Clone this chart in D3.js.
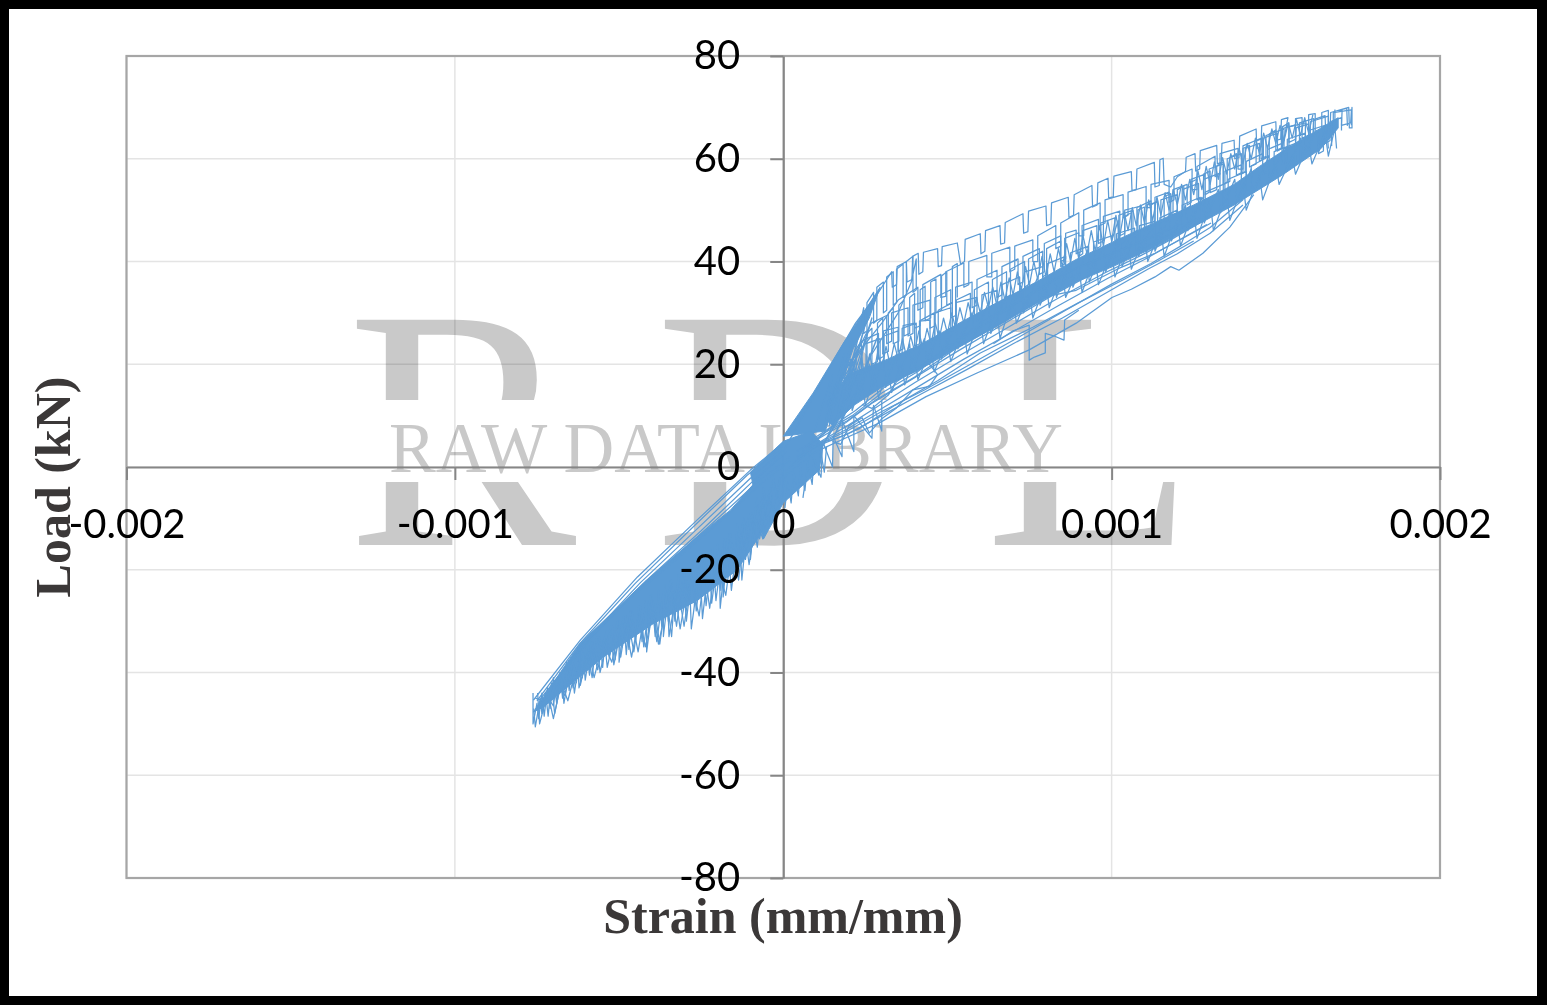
<!DOCTYPE html>
<html><head><meta charset="utf-8">
<script src="https://cdn.jsdelivr.net/npm/d3@7/dist/d3.min.js"></script>
<style>html,body{margin:0;padding:0;background:#000}svg{display:block}</style>
</head><body><svg id="c" width="1547" height="1005"></svg>
<script>
const xTicks=[-0.002,-0.001,0,0.001,0.002];
const yTicks=[-80,-60,-40,-20,0,20,40,60,80];
const xTitle="Strain (mm/mm)", yTitle="Load (kN)";
const wmLetters=["R","D","L"], wmText="RAW DATA LIBRARY";
// strain in microstrain, load in kN
const corePositive=[[120,10],[195,18],[300,20.5],[411,23.6],[530,27.8],[651,32],[770,36],[892,40.4],[1010,44],[1132,47.6],[1250,51],[1373,55],[1450,58.5],[1519,61.4],[1638,66],[1690,68],[1690,66],[1638,62],[1519,56.8],[1373,51],[1250,46.8],[1132,42.8],[1010,39.2],[892,36],[770,31.8],[651,27.4],[530,23.2],[411,18.8],[300,15.5],[215,12],[150,8]];
const coreSteep=[[0,6],[91,14.4],[183,24.1],[256,31.2],[295,35],[262,29],[213,23],[173,15.5],[128,7]];
const coreOrigin=[[-100,-1],[0,5],[85,7],[120,4.5],[110,-0.6],[60,-3.5],[0,-7],[-60,-14]];
const coreNegative=[[-761,-47.7],[-618,-34.3],[-426,-22.6],[-262,-13.6],[-161,-8.4],[-61,-1.2],[0,2.3],[0,-5.8],[-61,-12.3],[-140,-20],[-262,-26],[-396,-30.5],[-548,-37],[-730,-46.7]];
const toothA=[[0,3],[120,17],[220,28],[290,34],[330,38],[332,35],[345,35.5],[347,39],[375,40],[377,36],[392,36.5],[394,41],[411,41.6],[413,37.5],[425,38],[427,41.8],[470,42.5],[472,39],[482,39.2],[484,42.9],[530,43.6],[540,39.5],[552,40],[554,44.3],[600,45.4],[602,41.5],[614,42],[616,46],[660,47],[662,43.4],[674,43.6],[676,47.6],[730,49.3],[732,45.5],[745,45.8],[747,49.8],[800,50.8],[802,47],[815,47.3],[817,51.4],[868,52.5],[870,48.6],[884,49],[886,53],[940,54.8],[942,50.6],[956,51],[958,55.3],[989,56.2],[991,52.4],[1005,52.6],[1007,56.6],[1060,57.5],[1062,53.8],[1075,54],[1077,58],[1130,59.3],[1132,54.5],[1145,54.8],[1147,59.8],[1157,60.1],[1160,55],[1180,54.5],[1200,56.5],[1225,57.5],[1227,60.3],[1254,61],[1256,57.6],[1268,58],[1270,61.6],[1320,62.6],[1322,59],[1334,59.3],[1336,63],[1373,63.6],[1375,60],[1388,60.2],[1390,64.4],[1440,65.8],[1442,62],[1455,62.3],[1457,66.4],[1500,67.2],[1502,63.6],[1515,63.8],[1517,67.6],[1537,68],[1520,62],[1560,62.5],[1562,66],[1600,66.8],[1602,64],[1613,64.3],[1615,67.6],[1650,68.4],[1652,65],[1665,65.2],[1667,69],[1722,70],[1724,66],[1732,66],[1732,70],[1728,67],[1700,66.5],[1702,69.6],[1716,69.8],[1718,66.4]];
const toothB=[[200,20],[300,28],[350,32.5],[410,35],[410,30.5],[425,31],[425,35.5],[480,37.5],[480,33],[495,33.2],[495,38],[550,39.7],[550,35],[565,35.5],[565,40],[620,41.2],[620,37],[635,37],[635,41.6],[690,42.8],[690,38],[705,38.5],[705,43],[760,44.2],[760,40],[775,40],[775,45],[830,47],[830,42.5],[845,43],[845,47.5],[900,49.5],[900,45],[915,45],[915,50],[965,51.4],[965,47],[980,47.5],[980,52],[1035,53],[1035,48.5],[1050,49],[1050,53.5],[1105,54.6],[1105,50.5],[1120,50.5],[1120,55],[1175,55.8],[1175,51.5],[1190,52],[1190,56.5],[1245,58],[1245,54],[1260,54],[1260,58.5],[1315,60.5],[1315,56.5],[1330,57],[1330,61],[1385,62],[1385,58],[1400,58],[1400,62.5],[1455,64],[1455,60],[1470,60.5],[1470,64.5],[1525,65.8],[1525,62],[1540,62],[1540,66.2],[1590,67],[1590,63.5],[1605,64],[1605,67.2],[1660,68.3],[1660,65],[1675,65.5],[1675,69],[1730,69.5],[1730,66.5]];
const toothC=[[150,15],[230,23],[268,28],[315,29.5],[315,24],[330,24.5],[330,30],[380,31],[380,25.5],[395,26],[395,31.5],[447,32.5],[447,27],[462,27.5],[462,33],[510,34.5],[510,29],[525,29.5],[525,35],[575,36],[575,31],[590,31.5],[590,36.5],[651,38.3],[651,33],[666,33.5],[666,39],[715,40.5],[715,35.5],[730,36],[730,41],[780,42.5],[780,37.5],[795,38],[795,43.5],[845,45],[845,40],[860,40.5],[860,45.5],[892,46.1],[892,41.5],[910,42],[910,47],[960,48.2],[960,43.5],[975,44],[975,48.8],[1025,49.8],[1025,45],[1040,45.5],[1040,50],[1090,50.8],[1090,46],[1105,46.5],[1105,51],[1132,51.4],[1132,47],[1150,47.5],[1150,52],[1200,53],[1200,48.5],[1215,49],[1215,54],[1265,55.2],[1265,51],[1280,51.5],[1280,56],[1330,57.2],[1330,53],[1345,53.5],[1345,57.6],[1395,58.8],[1395,55],[1410,55.5],[1410,59.5],[1460,61],[1460,57],[1475,57.5],[1475,61.8],[1519,63],[1519,59],[1535,59.5],[1535,63.8],[1590,65],[1590,61.5],[1605,62],[1605,65.6],[1650,66.5],[1650,63],[1665,63.5],[1665,67.2],[1700,68],[1700,65.5]];
const toothD=[[130,12],[200,20],[244,24.7],[290,26],[290,21],[305,21.5],[305,26.5],[350,27.2],[350,22.5],[365,23],[365,27.5],[400,28],[400,23.5],[415,24],[415,28.4],[447,28.6],[447,24.5],[462,25],[462,30],[510,31],[510,26.5],[525,27],[525,32],[590,33],[590,28.5],[605,29],[605,33.5],[651,34.4],[651,30],[666,30.5],[666,35.5],[720,37],[720,32.5],[735,33],[735,38],[790,39],[790,34.5],[805,35],[805,39.6],[860,41],[860,36.5],[875,37],[875,41.7],[930,43],[930,38.5],[945,39],[945,43.8],[1000,45],[1000,40.5],[1015,41],[1015,45.4],[1070,46.5],[1070,42],[1085,42.5],[1085,47],[1132,47.8],[1132,43.5],[1147,44],[1147,48.5],[1200,50],[1200,46],[1215,46.5],[1215,51],[1270,52.5],[1270,48],[1285,48.5],[1285,53.5],[1340,55],[1340,50.5],[1355,51],[1355,56],[1410,57.5],[1410,53.5],[1425,54],[1425,58.6],[1480,60.5],[1480,56.5],[1495,57],[1495,61.4],[1560,63],[1560,59],[1575,59.5],[1575,63.8],[1630,65],[1630,61],[1645,61.5],[1645,66],[1670,66.8],[1670,62.5]];
const toothE=[[180,17],[240,23],[240,18],[252,18.5],[252,24],[295,25],[295,20],[307,20],[307,25.5],[350,26.5],[350,21.5],[362,22],[362,27],[405,28],[405,23],[417,23.5],[417,28.5],[460,30],[460,25],[472,25.5],[472,30.5],[515,32],[515,27],[527,27.5],[527,32.5],[570,33.8],[570,29],[582,29.5],[582,34.5],[625,36],[625,31],[637,31.5],[637,36.5],[680,38],[680,33],[692,33.5],[692,38.5],[735,40],[735,35],[747,35.5],[747,40.5],[790,42],[790,37],[802,37.5],[802,42.5],[845,44],[845,39],[857,39.5],[857,44.5],[900,45.6],[900,41],[912,41.5],[912,46],[955,47],[955,42.5],[967,43],[967,47.5],[1010,48.5],[1010,44],[1022,44.5],[1022,49],[1065,50],[1065,45.5],[1077,46],[1077,50.5],[1120,51.8],[1120,47.5],[1132,48],[1132,52.5],[1175,53.5],[1175,49],[1187,49.5],[1187,54],[1230,55],[1230,51],[1242,51.5],[1242,56],[1285,57],[1285,53],[1297,53.5],[1297,58],[1340,59],[1340,55],[1352,55.5],[1352,60],[1395,61],[1395,57],[1407,57.5],[1407,62],[1450,63],[1450,59.5],[1462,60],[1462,64],[1505,65],[1505,61.5],[1517,62],[1517,65.8],[1560,66.6],[1560,63],[1572,63.5],[1572,67],[1615,67.8],[1615,64.5]];
const toothF=[[235,28],[245,31],[245,26],[255,26.5],[255,32],[275,34],[275,28],[285,28.5],[285,35],[305,36],[305,30],[315,30.5],[315,37],[335,38],[335,31.5],[345,32],[345,38.5],[365,39.5],[365,33],[375,33.5],[375,40],[395,41],[395,34],[405,34.5],[405,40.5],[390,36],[370,33],[350,30],[330,28],[310,26],[290,24],[270,22]];
const toothG=[[190,16],[205,21],[205,16.5],[222,17],[222,23],[238,24.5],[238,18.5],[255,19],[255,26],[270,27],[270,20],[287,20.5],[287,28],[303,29],[303,22],[320,22.5],[320,30],[335,31],[335,24],[352,24.5],[352,31.5],[368,32.5],[368,25.5],[385,26],[385,33],[400,33.8],[400,27],[417,27.5],[417,34.5],[432,35.2],[432,28.5],[449,29],[449,36],[465,36.6],[465,30],[482,30.5],[482,37.2],[498,38],[498,31.5],[515,32],[515,39],[530,39.6],[530,33]];
const toothH=[[1000,44],[1020,48],[1020,43],[1040,44],[1040,48.8],[1060,49.5],[1060,44.6],[1080,45.4],[1080,50],[1100,50.6],[1100,46],[1120,46.6],[1120,51],[1140,51.8],[1140,47.4],[1160,48],[1160,52.6],[1180,53.2],[1180,49],[1200,49.4],[1200,54],[1220,54.6],[1220,50],[1240,50.8],[1240,55.4],[1260,56],[1260,52],[1280,52.4],[1280,57],[1300,57.6],[1300,53.4],[1320,54],[1320,58.6],[1340,59.4],[1340,55],[1360,55.6],[1360,60.2],[1380,61],[1380,56.8],[1400,57.4],[1400,62],[1420,62.6],[1420,58.4],[1440,59],[1440,63.4],[1460,64],[1460,60],[1480,60.6],[1480,64.8],[1500,65.6],[1500,61.6],[1520,62.2],[1520,66.2],[1540,67],[1540,63.2],[1560,63.8],[1560,67.8],[1580,68],[1580,64],[1600,64.6],[1600,68.6],[1620,68.8],[1620,65],[1640,65.6],[1640,69],[1660,69.4],[1660,66],[1680,66.4],[1680,69.6]];
const steepFuzz=[[90,6],[150,18],[125,7],[185,22],[140,8],[210,25],[165,10],[235,27],[180,12],[255,29],[190,13],[270,29],[210,15],[175,9],[225,17],[190,11],[240,19],[205,13],[260,21],[222,15],[285,25],[240,17],[155,6],[210,14],[120,4],[180,12]];
const spikeP=[[130,9],[160,15],[170,9.5],[200,16],[210,11],[240,17],[250,12],[280,18],[290,13.5],[320,19],[330,14.5],[360,20.5],[370,16],[400,22],[410,17],[450,23],[460,18.5],[500,25],[510,20.5],[550,27],[560,22],[600,29],[610,24],[650,31],[660,25],[700,33],[710,28],[750,34],[760,29],[800,36],[810,31],[850,38],[860,33],[900,39],[910,34],[950,41],[960,35.5],[1000,42],[1010,37],[1050,44],[1060,38.5],[1100,45],[1110,40],[1150,46.5],[1160,41],[1200,48],[1210,43],[1250,50],[1260,44.5],[1300,52],[1310,46],[1350,53],[1360,48],[1400,55],[1410,50],[1450,57],[1460,52],[1500,59],[1510,55],[1550,60.5],[1560,57],[1600,63],[1610,59],[1650,65],[1660,60.5],[1680,66],[1685,62]];
const spikeP2=[[145,13],[175,17],[185,11],[220,18],[228,13],[262,20],[270,15],[305,21],[312,15.5],[345,22],[352,17],[385,24],[392,18.5],[430,25],[438,20],[475,26.5],[482,21],[525,28],[532,23],[575,30],[582,25],[625,32],[632,26],[675,33],[682,29],[725,35],[732,30],[775,37],[782,31.5],[825,38],[832,33],[875,40],[882,35],[925,42],[932,36],[975,43],[982,38],[1025,45],[1032,39],[1075,46],[1082,41],[1125,47],[1132,42],[1175,49],[1182,44],[1225,51],[1232,46],[1275,52.5],[1282,47.5],[1325,54],[1332,49.5],[1375,56],[1382,51.5],[1425,58],[1432,53.5],[1475,60],[1482,56],[1525,62],[1532,57.5],[1575,64],[1582,60],[1625,65.5],[1632,61.5],[1655,66.5],[1660,62]];
const spikeUp=[[200,15],[212,20.5],[225,16],[238,21.5],[250,17],[263,22],[275,18],[288,22.5],[300,19],[313,23.5],[325,20],[338,24],[350,21],[363,25],[375,21.5],[388,25.5],[400,22.5],[413,26.5],[425,23],[438,27],[450,24],[463,28],[475,25],[488,29],[500,26],[513,30],[525,27],[538,31],[550,28],[563,32],[575,29],[588,33],[600,30],[613,34],[625,31],[638,35],[650,31.5],[663,36],[675,32.5],[688,36.8],[700,33.5],[713,38],[725,34.5],[738,39],[750,35.5],[763,40],[775,36.5],[788,41],[800,37],[813,41.5],[825,38],[838,42.5],[850,39],[863,43.5],[875,40],[888,44.5],[900,40.5],[913,45],[925,41.5],[938,46],[950,42],[963,47],[975,43],[988,48],[1000,44],[1013,49],[1025,45],[1038,49.8],[1050,46],[1063,50.5],[1075,47],[1088,51],[1100,47.5],[1113,52],[1125,48],[1138,52.6],[1150,49],[1163,53.4],[1175,50],[1188,54],[1200,51],[1213,55],[1225,52],[1238,56],[1250,53],[1263,57.6],[1275,54],[1288,58.5],[1300,55],[1313,59.4],[1325,56],[1338,60.2],[1350,57],[1363,61],[1375,58],[1388,62],[1400,59],[1413,63],[1425,60],[1438,64],[1450,61],[1463,65],[1475,62],[1488,65.8],[1500,63],[1513,66.5],[1525,63.5],[1538,67],[1550,64],[1563,67.6],[1575,64.5],[1588,68],[1600,65],[1613,68.6]];
const lower1=[[0,-2],[100,3],[195,5.8],[290,8.5],[435,13.7],[590,18.3],[749,22.8],[892,28],[1001,33],[1060,34.6],[1132,37],[1180,39],[1205,38.3],[1278,41.6],[1360,46.7],[1433,53]];
const lower2=[[0,-1],[100,4],[195,6.4],[300,10],[420,14.2],[560,19],[700,24],[850,29],[1000,34.5],[1110,38.5],[1200,41.5],[1300,45.5],[1400,51]];
const lower3=[[20,0],[110,4.5],[195,7],[300,10.8],[430,15],[570,20],[710,25],[860,30.5],[1000,35.6],[1120,39.6],[1210,43],[1300,46.6],[1400,52]];
const lower4=[[30,1],[120,5],[195,7.4],[290,11],[410,15.6],[550,21],[690,26],[840,31.5],[990,36.8],[1100,40.4],[1200,44],[1290,47.2]];
const lower5=[[40,2],[130,5.6],[195,8],[280,11.5],[400,16.4],[540,21.8],[680,27],[830,32.6],[980,37.8],[1090,41.2],[1190,44.6],[1280,48]];
const lower6=[[40,3],[120,6],[190,8.6],[270,12.4],[390,17],[530,22.5],[670,27.8],[820,33.4],[970,38.6],[1080,42],[1180,45.4],[1270,48.6]];
const lower7=[[60,3],[130,6.8],[195,9],[280,13],[400,17.5],[525,23],[651,27.5],[790,33],[892,34.4],[1020,38.6],[1132,41.6],[1303,47.5]];
const lower8=[[50,2],[115,4.8],[160,5.5],[230,7.4],[340,12],[470,16.8],[600,22.2],[760,27.2],[900,32],[1040,36.6],[1150,40.4],[1250,44]];
const lower9=[[70,4],[140,7.4],[210,10],[300,14.4],[410,18.6],[520,24],[640,28.8],[770,34.4],[890,38.6],[1010,41.8],[1120,44.6],[1220,47.5]];
const lower10=[[80,5],[150,8],[220,11],[310,15.6],[415,19.4],[510,23.8],[620,28.8],[740,33],[860,37.8],[980,41],[1100,44.2],[1200,47]];
const lowerCell=[[150,5],[175,4.4],[200,8],[240,9.6],[262,6.6],[300,9.4],[345,11.5],[395,15],[445,15.7],[470,18],[440,20.4],[400,19],[345,16.6],[320,14],[270,11.4],[240,12.2]];
const dipCurve=[[640,24],[700,26.5],[749,27.6],[749,20.8],[765,21.4],[798,22.2],[798,26],[825,25.5],[855,24.7],[857,28.6],[900,30.5]];
const originTeeth=[[60,-6],[80,3],[115,-2],[120,5],[150,0],[152,6],[179,2],[180,9],[215,3],[215,10],[270,5.6],[275,12],[300,7],[300,13]];
const originTeeth2=[[5,-8],[14,-3],[24,-7],[32,-1],[46,-5.6],[52,0],[66,-4.6],[74,1],[88,-3.4],[94,2],[108,-1.6],[114,3],[125,-1],[132,4]];
const negUpper1=[[-761,-45.4],[-618,-33.7],[-444,-21.4],[-262,-10.3],[-100,-0.6],[0,4.7]];
const negUpper2=[[-750,-45.5],[-620,-34.4],[-450,-22.6],[-270,-11.4],[-110,-1.6],[0,4]];
const negUpper3=[[-735,-44.8],[-600,-33.8],[-435,-22.5],[-255,-11.6],[-100,-2.2],[0,3.2]];
const negUpper4=[[-700,-42],[-580,-33],[-420,-22.3],[-250,-12.4],[-90,-2.6],[10,3]];
const negUpper5=[[-640,-36.5],[-500,-27.5],[-370,-19.8],[-220,-11.2],[-80,-3],[20,2]];
const negUpper6=[[-600,-34],[-470,-25.7],[-340,-18.8],[-200,-11],[-70,-3.4],[20,1.2]];
const spikeN1=[[-762,-44],[-762,-50],[-750,-46],[-745,-49],[-735,-44],[-728,-48.5],[-718,-43],[-710,-47],[-700,-41],[-690,-46],[-680,-40],[-672,-45],[-660,-38],[-652,-43.5],[-640,-37],[-630,-42],[-620,-36],[-612,-41],[-600,-35],[-590,-40.5],[-580,-34],[-572,-38],[-560,-33],[-550,-39],[-540,-32],[-530,-37],[-520,-31],[-512,-37.5],[-500,-30],[-490,-35],[-480,-29],[-470,-35.5],[-460,-28],[-450,-34],[-440,-27],[-430,-34],[-420,-26],[-410,-32],[-400,-25],[-390,-33],[-380,-24],[-370,-31],[-360,-23],[-350,-30],[-340,-22],[-330,-30],[-320,-21],[-310,-28],[-300,-20],[-290,-27],[-280,-19],[-270,-27],[-260,-18],[-250,-24],[-240,-17],[-230,-24],[-220,-16],[-210,-23],[-200,-15],[-190,-24],[-180,-14],[-170,-20],[-160,-13],[-150,-20],[-140,-11],[-130,-17],[-120,-10],[-110,-15],[-100,-9],[-90,-13],[-80,-6],[-70,-11],[-60,-4],[-50,-8],[-30,-2],[-20,-6],[0,0]];
const spikeN2=[[-760,-47],[-755,-50.6],[-740,-45],[-735,-48],[-725,-44],[-700,-46.5],[-690,-42],[-665,-44.5],[-650,-39],[-640,-43],[-610,-36],[-603,-41.5],[-585,-34],[-565,-39.5],[-545,-33],[-536,-39],[-505,-30],[-495,-37],[-475,-29],[-455,-36],[-435,-27],[-425,-35],[-405,-25],[-385,-34],[-365,-24],[-365,-33],[-345,-22],[-325,-31],[-305,-21],[-295,-30],[-275,-19],[-265,-28],[-245,-17],[-235,-27],[-215,-16],[-205,-26],[-183,-15],[-183,-25.3],[-165,-13],[-145,-21],[-125,-11],[-115,-18],[-95,-9],[-79,-15.6],[-65,-6],[-45,-11],[-30,-3],[-10,-7],[10,-1]];
const spikeN3=[[-748,-44],[-742,-50],[-722,-45],[-716,-48.5],[-706,-42],[-696,-48],[-674,-41],[-668,-46],[-646,-38],[-636,-44],[-618,-36],[-618,-42.5],[-596,-36],[-582,-41],[-568,-33],[-558,-40],[-526,-31],[-516,-38.5],[-486,-29],[-478,-36.5],[-466,-28],[-442,-36],[-416,-26],[-416,-36],[-396,-26],[-376,-34.5],[-356,-25],[-340,-33],[-330,-24],[-314,-31.5],[-286,-21],[-280,-31.5],[-254,-19],[-246,-29.5],[-226,-18],[-218,-26.5],[-196,-16],[-192,-27.5],[-170,-14],[-158,-24],[-134,-12],[-126,-22],[-108,-10],[-100,-18],[-85,-8],[-72,-14],[-40,-4],[-36,-10],[-10,-2]];
const spikeN4=[[-755,-45],[-710,-46],[-700,-49],[-676,-42],[-656,-45.5],[-626,-38],[-622,-43],[-592,-36],[-576,-41],[-548,-34],[-522,-38],[-500,-31],[-500,-38],[-482,-30],[-462,-37],[-438,-29],[-420,-35],[-396,-28],[-380,-34.5],[-352,-26],[-348,-33],[-322,-23],[-302,-31],[-282,-22],[-256,-29],[-240,-20],[-224,-27.5],[-205,-18],[-175,-25],[-155,-15],[-136,-22],[-118,-12],[-104,-19],[-84,-10],[-62,-14],[-52,-6],[-26,-8]];
const wiggleCurves=[toothA,toothB,toothC,toothD,toothE,toothF,toothG,toothH,steepFuzz,spikeP,spikeP2,spikeUp,lower1,lower2,lower3,lower4,lower5,lower6,lower7,lower8,lower9,lower10,lowerCell,dipCurve,originTeeth,originTeeth2,negUpper1,negUpper2,negUpper3,negUpper4,negUpper5,negUpper6,spikeN1,spikeN2,spikeN3,spikeN4];
const coreBands=[corePositive,coreSteep,coreOrigin,coreNegative];

const svg=d3.select("#c");
const x=d3.scaleLinear().domain([-0.002,0.002]).range([126.5,1440]);
const y=d3.scaleLinear().domain([-80,80]).range([878,56]);
const mx=d=>x(d[0]*1e-6), my=d=>y(d[1]);
const FONT="Lato, 'Open Sans', sans-serif", SERIF="'Liberation Serif', serif";
const BLUE="#5b9bd5";

// black outer frame with white page inside
svg.append("rect").attr("width",1547).attr("height",1005).attr("fill","#000");
svg.append("rect").attr("x",9).attr("y",9).attr("width",1528).attr("height",987).attr("fill","#fff");

// gridlines
const grid=svg.append("g").attr("stroke","#e4e4e4").attr("stroke-width",1.5);
grid.selectAll("line.h").data(yTicks).join("line").attr("class","h").attr("x1",x.range()[0]).attr("x2",x.range()[1]).attr("y1",d=>y(d)).attr("y2",d=>y(d));
grid.selectAll("line.v").data(xTicks).join("line").attr("class","v").attr("y1",56).attr("y2",878).attr("x1",d=>x(d)).attr("x2",d=>x(d));

// watermark
const defs=svg.append("defs");
const cp=defs.append("clipPath").attr("id","wm");
cp.append("rect").attr("x",300).attr("y",300).attr("width",950).attr("height",100);
cp.append("rect").attr("x",300).attr("y",482).attr("width",950).attr("height",80);
const wm=svg.append("g").attr("fill","#c9c9c9").style("mix-blend-mode","multiply");
const big=wm.append("g").attr("clip-path","url(#wm)").attr("font-family",SERIF).attr("font-size",344);
big.selectAll("text").data(wmLetters).join("text").text(d=>d).attr("y",545)
   .attr("x",(d,i)=>[347,655,985][i]);
wm.append("text").text(wmText).attr("x",389).attr("y",472).attr("font-family",SERIF).attr("font-size",72)
   .attr("textLength",674).attr("lengthAdjust","spacingAndGlyphs");

// plot frame
svg.append("rect").attr("x",x.range()[0]).attr("y",56).attr("width",x.range()[1]-x.range()[0]).attr("height",822)
   .attr("fill","none").attr("stroke","#a6a6a6").attr("stroke-width",2.2);

// axis lines and tick marks
const gxLine=svg.append("g").attr("transform",`translate(0,${y(0)})`).call(d3.axisBottom(x).tickValues(xTicks).tickFormat("").tickSize(13).tickSizeOuter(0));
const gyLine=svg.append("g").attr("transform",`translate(${x(0)},0)`).call(d3.axisLeft(y).tickValues(yTicks).tickFormat("").tickSize(13).tickSizeOuter(0));
[gxLine,gyLine].forEach(g=>{
  g.selectAll(".domain").attr("stroke","#868686").attr("stroke-width",2.2);
  g.selectAll(".tick line").attr("stroke","#868686").attr("stroke-width",2);
});

// curves
const line=d3.line().x(mx).y(my);
svg.append("g").selectAll("path").data(coreBands).join("path")
   .attr("d",d=>line(d)+"Z").attr("fill",BLUE).attr("stroke",BLUE).attr("stroke-width",1);
svg.append("g").selectAll("path").data(wiggleCurves).join("path")
   .attr("d",line).attr("fill","none").attr("stroke",BLUE).attr("stroke-width",1.25).attr("stroke-linejoin","round");

// tick labels above the curves
const gxText=svg.append("g").attr("transform",`translate(0,${y(0)})`).call(d3.axisBottom(x).tickValues(xTicks).tickFormat(String).tickSize(0).tickPadding(43));
const gyText=svg.append("g").attr("transform",`translate(${x(0)},0)`).call(d3.axisLeft(y).tickValues(yTicks).tickFormat(String).tickSize(0).tickPadding(43));
[gxText,gyText].forEach(g=>{
  g.selectAll(".domain").remove();
  g.selectAll(".tick text").attr("fill","#000").attr("font-family",FONT).attr("font-size",40);
});

// titles
svg.append("text").text(xTitle).attr("x",783).attr("y",933).attr("text-anchor","middle")
   .attr("font-family",SERIF).attr("font-weight","bold").attr("font-size",50).attr("fill","#3b3838");
svg.append("text").text(yTitle).attr("transform","translate(70,487) rotate(-90)").attr("text-anchor","middle")
   .attr("font-family",SERIF).attr("font-weight","bold").attr("font-size",50).attr("fill","#3b3838");
</script></body></html>
